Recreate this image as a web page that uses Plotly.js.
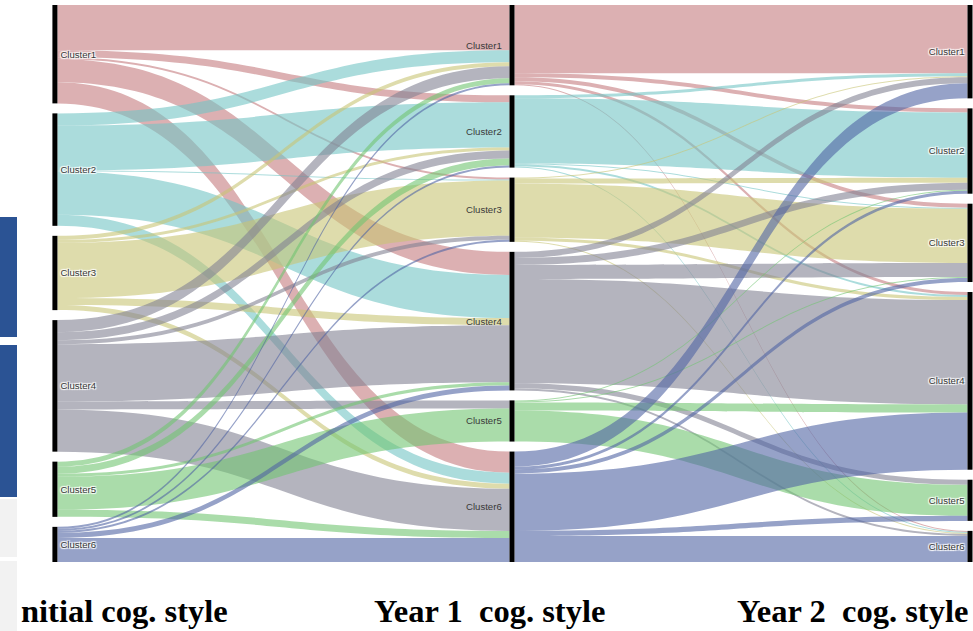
<!DOCTYPE html>
<html><head><meta charset="utf-8">
<script src="https://cdn.plot.ly/plotly-3.0.1.min.js"></script>
<style>html,body{margin:0;padding:0;background:#fff;overflow:hidden}#chart{width:973px;height:631px}</style>
</head><body><div id="chart"></div>
<script>
// ---- data ----
const clusters = ["Cluster1","Cluster2","Cluster3","Cluster4","Cluster5","Cluster6"];
const stageTitles = ["nitial cog. style","Year 1  cog. style","Year 2  cog. style"];
// Initial -> Year 1 (row = initial cluster, column = Year 1 cluster)
const initToY1_c1 = [45, 7, 2, 23, 0, 21];
const initToY1_c2 = [12, 45, 1, 43, 0, 11];
const initToY1_c3 = [4, 3, 55, 7, 0, 5];
const initToY1_c4 = [12, 8, 4, 57, 8, 42];
const initToY1_c5 = [5, 7, 0, 3, 33, 7];
const initToY1_c6 = [2, 2, 2, 5, 0, 24];
// Year 1 -> Year 2 (row = Year 1 cluster, column = Year 2 cluster)
const y1ToY2_c1 = [68, 4, 4, 3, 0, 1];
const y1ToY2_c2 = [3, 65, 1, 2, 0, 1];
const y1ToY2_c3 = [1, 5, 54, 3, 0, 1];
const y1ToY2_c4 = [6, 7, 14, 104, 5, 2];
const y1ToY2_c5 = [0, 1, 1, 8, 31, 0];
const y1ToY2_c6 = [15, 3, 4, 57, 5, 26];

const initToY1 = [initToY1_c1, initToY1_c2, initToY1_c3, initToY1_c4, initToY1_c5, initToY1_c6];
const y1ToY2 = [y1ToY2_c1, y1ToY2_c2, y1ToY2_c3, y1ToY2_c4, y1ToY2_c5, y1ToY2_c6];

// ---- styles ----
const linkColors = [
  "rgba(197,123,127,0.6)", "rgba(115,197,197,0.6)", "rgba(200,197,117,0.6)",
  "rgba(130,130,147,0.6)", "rgba(113,197,113,0.6)", "rgba(80,100,163,0.6)"
];
const M = {l: 54, r: 3, t: 5, b: 69};
const W = 973, H = 631;
const plotW = W - M.l - M.r, plotH = H - M.t - M.b;
const pad = 10;
const colX = [0.001, 0.5, 1];
const labelFont = {family: "Liberation Sans, Arial, sans-serif", size: 9.6, color: "#3a3a3a"};

// ---- build nodes & links ----
const n = clusters.length;
const labels = [], src = [], tgt = [], val = [], lcol = [];
// middle-column labels are drawn on the left of their nodes (see annotations below)
for (let s = 0; s < 3; s++) for (let c = 0; c < n; c++) labels.push(s === 1 ? "" : clusters[c]);
function addLinks(mat, stage) {
  mat.forEach((row, i) => row.forEach((v, j) => {
    if (v > 0) { src.push(stage * n + i); tgt.push((stage + 1) * n + j); val.push(v); lcol.push(linkColors[i]); }
  }));
}
addLinks(initToY1, 0);
addLinks(y1ToY2, 1);

// node values (max of in/out) per column
const inSum = new Array(3 * n).fill(0), outSum = new Array(3 * n).fill(0);
src.forEach((s, k) => { outSum[s] += val[k]; inSum[tgt[k]] += val[k]; });
const nodeVal = inSum.map((v, i) => Math.max(v, outSum[i]));
const colTotals = [0, 1, 2].map(s => nodeVal.slice(s * n, s * n + n).reduce((a, b) => a + b, 0));
const ky = Math.min(...colTotals.map(t => (plotH - (n - 1) * pad) / t));
const nodeX = [], nodeY = [];
for (let s = 0; s < 3; s++) {
  const gap = (plotH - colTotals[s] * ky) / (n - 1);
  let y = 0;
  for (let c = 0; c < n; c++) {
    const h = nodeVal[s * n + c] * ky;
    nodeX.push(colX[s]);
    nodeY.push(Math.max(0.001, (y + h / 2) / plotH));
    y += h + gap;
  }
}

const px2x = px => (px - M.l) / plotW;
const px2y = py => 1 - (py - M.t) / plotH;

const data = [{
  type: "sankey",
  arrangement: "fixed",
  domain: {x: [0, 1], y: [0, 1]},
  node: {
    label: labels, x: nodeX, y: nodeY, pad: pad, thickness: 5,
    color: "#000", line: {width: 0}
  },
  link: {source: src, target: tgt, value: val, color: lcol, line: {width: 0}},
  textfont: labelFont
}];

const titleFont = {family: "Liberation Serif, Times New Roman, serif", size: 32.5, color: "#000", weight: "bold"};
const annotations = [
  {text: "<b>" + stageTitles[0] + "</b>", xref: "paper", yref: "paper", x: px2x(19), y: px2y(611), xanchor: "left", yanchor: "middle", showarrow: false, font: titleFont},
  {text: "<b>" + stageTitles[1] + "</b>", xref: "paper", yref: "paper", x: px2x(489), y: px2y(611), xanchor: "center", yanchor: "middle", showarrow: false, font: titleFont},
  {text: "<b>" + stageTitles[2] + "</b>", xref: "paper", yref: "paper", x: px2x(852), y: px2y(611), xanchor: "center", yanchor: "middle", showarrow: false, font: titleFont}
];
// middle column labels, placed just left of each Year 1 node
for (let c = 0; c < n; c++) {
  annotations.push({
    text: clusters[c], xref: "paper", yref: "paper",
    x: colX[1] - 8 / plotW, y: 1 - nodeY[n + c],
    xanchor: "right", yanchor: "middle", showarrow: false, font: labelFont
  });
}

const layout = {
  width: W, height: H,
  margin: M,
  paper_bgcolor: "#fff",
  font: {family: "Liberation Sans, Arial, sans-serif"},
  shapes: [
    {type: "rect", xref: "paper", yref: "paper", x0: px2x(0), x1: px2x(17), y0: px2y(217), y1: px2y(337), fillcolor: "#2b5394", line: {width: 0}, layer: "below"},
    {type: "rect", xref: "paper", yref: "paper", x0: px2x(0), x1: px2x(17), y0: px2y(345), y1: px2y(497), fillcolor: "#2b5394", line: {width: 0}, layer: "below"},
    {type: "rect", xref: "paper", yref: "paper", x0: px2x(0), x1: px2x(17), y0: px2y(499), y1: px2y(557), fillcolor: "#f2f2f2", line: {width: 0}, layer: "below"},
    {type: "rect", xref: "paper", yref: "paper", x0: px2x(0), x1: px2x(17), y0: px2y(561), y1: px2y(631), fillcolor: "#f2f2f2", line: {width: 0}, layer: "below"}
  ],
  annotations: annotations
};
Plotly.newPlot("chart", data, layout, {displayModeBar: false, staticPlot: true});
</script></body></html>
